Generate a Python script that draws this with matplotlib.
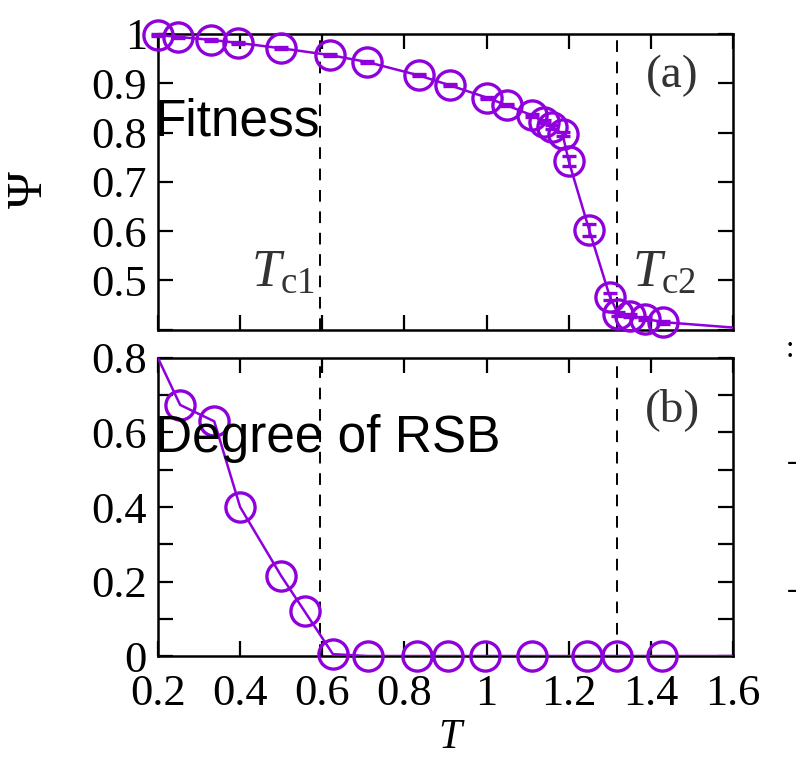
import matplotlib
matplotlib.use("Agg")
import matplotlib.pyplot as plt
import numpy as np

plt.rcParams['font.family'] = ['Liberation Serif', 'DejaVu Serif']
plt.rcParams['mathtext.fontset'] = 'custom'
plt.rcParams['mathtext.rm'] = 'Liberation Serif'
plt.rcParams['mathtext.it'] = 'Liberation Serif:italic'

# ---- data -------------------------------------------------------------
# (a) fitness Psi versus temperature T
t_a = [0.20, 0.25, 0.33, 0.395, 0.50, 0.62, 0.71, 0.835, 0.91, 1.00, 1.05,
       1.11, 1.14, 1.16, 1.185, 1.20, 1.25, 1.30, 1.32, 1.35, 1.385, 1.43]
psi = [0.998, 0.994, 0.988, 0.982, 0.971, 0.957, 0.943, 0.916, 0.896, 0.871,
       0.855, 0.835, 0.822, 0.812, 0.797, 0.742, 0.602, 0.467, 0.432, 0.428,
       0.422, 0.415]
psi_err = [0.002, 0.002, 0.002, 0.002, 0.002, 0.002, 0.002, 0.002, 0.002,
           0.002, 0.002, 0.003, 0.003, 0.004, 0.005, 0.010, 0.013, 0.008,
           0.004, 0.003, 0.003, 0.003]
# solid curve for (a), continued to the right edge
t_a_curve = t_a + [1.60]
psi_curve = psi + [0.404]

# (b) degree of replica symmetry breaking versus T
t_b = [0.254, 0.337, 0.40, 0.50, 0.557, 0.626, 0.711, 0.831, 0.906, 0.996,
       1.111, 1.245, 1.318, 1.427]
rsb = [0.674, 0.630, 0.400, 0.215, 0.120, 0.005, 0.0, 0.0, 0.0, 0.0, 0.0,
       0.0, 0.0, 0.0]
t_b_curve = [0.20] + t_b + [1.60]
rsb_curve = [0.80] + rsb + [0.0]

# transition temperatures
t_c1 = 0.594
t_c2 = 1.318

x_ticks = [0.2, 0.4, 0.6, 0.8, 1.0, 1.2, 1.4, 1.6]
x_ticklabels = ['0.2', '0.4', '0.6', '0.8', '1', '1.2', '1.4', '1.6']
a_ticks = [0.4, 0.5, 0.6, 0.7, 0.8, 0.9, 1.0]
a_ticklabels = ['', '0.5', '0.6', '0.7', '0.8', '0.9', '1']
b_ticks = [0.0, 0.1, 0.2, 0.3, 0.4, 0.5, 0.6, 0.7, 0.8]
b_ticklabels = ['0', '', '0.2', '', '0.4', '', '0.6', '', '0.8']

# ---- styling ------------------------------------------------------------
purple = '#9000dc'
label_grey = '#333333'
tick_fs = 32
mk = dict(ms=21, mfc='none', mec=purple, mew=2.4)

fig = plt.figure(figsize=(7.99, 7.57), dpi=100)
ax_a = fig.add_axes([0.1977, 0.5647, 0.7197, 0.3904])
ax_b = fig.add_axes([0.1977, 0.1334, 0.7197, 0.3937])

for ax in (ax_a, ax_b):
    ax.set_xlim(0.2, 1.6)
    ax.set_xticks(x_ticks)
    ax.tick_params(direction='in', length=11, width=1.6, top=True, right=True,
                   labelsize=tick_fs, pad=8)
    ax.tick_params(axis='x', pad=13)
    for sp in ax.spines.values():
        sp.set_linewidth(1.8)
    for tc in (t_c1, t_c2):
        ax.axvline(tc, color='black', lw=1.4, dashes=(6, 5), zorder=1)

# panel (a)
ax_a.set_ylim(0.4, 1.0)
ax_a.set_yticks(a_ticks)
ax_a.set_yticklabels(a_ticklabels)
ax_a.set_xticklabels([])
ax_a.plot(t_a_curve, psi_curve, color=purple, lw=1.8, zorder=3)
ax_a.errorbar(t_a, psi, yerr=psi_err, fmt='o', ecolor=purple,
              elinewidth=1.8, capsize=5, capthick=2.4, clip_on=False,
              zorder=4, **mk)
ax_a.text(0.894, 0.86, '(a)', transform=ax_a.transAxes, fontsize=34,
          color=label_grey, ha='center', va='center')
ax_a.text(t_c1 - 0.012, 0.488, r'$T_{\rm c1}$', fontsize=38, color=label_grey,
          ha='right', va='baseline')
ax_a.text(t_c2 + 0.035, 0.488, r'$T_{\rm c2}$', fontsize=38, color=label_grey,
          ha='left', va='baseline')

# panel (b)
ax_b.set_ylim(0.0, 0.8)
ax_b.set_yticks(b_ticks)
ax_b.set_yticklabels(b_ticklabels)
ax_b.set_xticklabels(x_ticklabels)
ax_b.plot(t_b_curve, rsb_curve, color=purple, lw=1.8, zorder=3)
ax_b.plot(t_b, rsb, 'o', clip_on=False, zorder=4, **mk)
ax_b.text(0.894, 0.826, '(b)', transform=ax_b.transAxes, fontsize=34,
          color=label_grey, ha='center', va='center')

# axis labels
fig.text(30 / 799, 1 - 190 / 757, 'Ψ', rotation=90, fontsize=36,
         ha='center', va='center')
fig.text(452 / 799, 1 - 738 / 757, r'$T$', fontsize=30, ha='center',
         va='center')

# overlaid captions
fig.text(155 / 799, 1 - 135 / 757, 'Fitness', family='Liberation Sans',
         fontsize=37, color='black', ha='left', va='baseline')
fig.text(155 / 799, 1 - 452 / 757, 'Degree of RSB', family='Liberation Sans',
         fontsize=37, color='black', ha='left', va='baseline')

# fragments of the neighbouring panel at the right edge
fig.text(790 / 799, 1 - 350 / 757, ':', fontsize=22, ha='center',
         va='center')
fig.text(792 / 799, 1 - 463 / 757, '-', fontsize=22, ha='center',
         va='center')
fig.text(792 / 799, 1 - 590 / 757, '-', fontsize=22, ha='center',
         va='center')

fig.savefig('out.png', dpi=100)
